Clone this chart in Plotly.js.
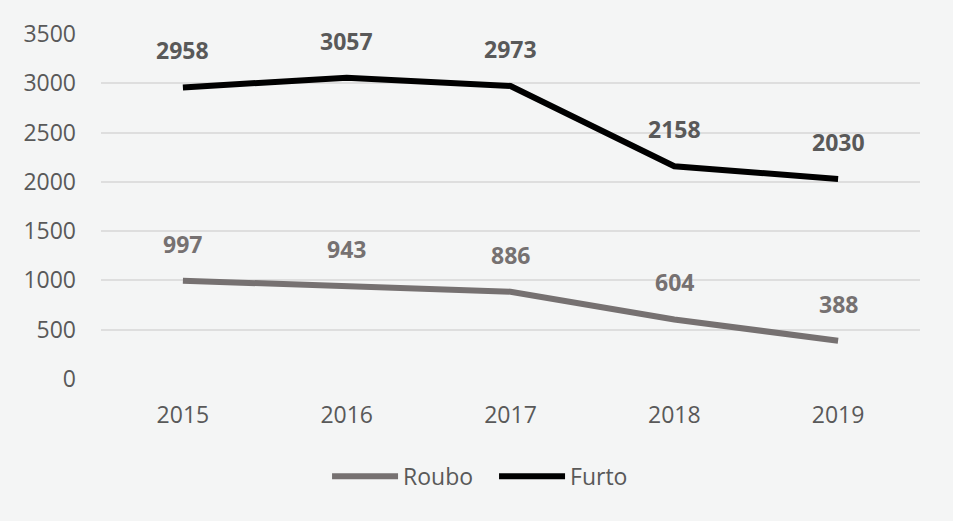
<!DOCTYPE html>
<html>
<head>
<meta charset="utf-8">
<script src="https://cdn.plot.ly/plotly-3.0.1.min.js"></script>
<style>
  html, body { margin: 0; padding: 0; background: #f4f5f5; }
  #chart { width: 953px; height: 521px; }
</style>
</head>
<body>
<div id="chart"></div>
<script>
const years = ["2015", "2016", "2017", "2018", "2019"];
const roubo = [997, 943, 886, 604, 388];
const furto = [2958, 3057, 2973, 2158, 2030];

const FONT = "Open Sans, sans-serif";

// data labels sit above each point
function pointLabels(values, color) {
  return values.map((v, i) => ({
    xref: "x",
    yref: "y",
    x: i,
    y: v,
    text: "<b>" + v + "</b>",
    showarrow: false,
    yshift: 37,
    font: { family: FONT, size: 23, color: color },
  }));
}

Plotly.newPlot("chart", [
  {
    type: "scatter",
    mode: "lines",
    name: "Roubo",
    x: years,
    y: roubo,
    line: { color: "#767171", width: 6 },
  },
  {
    type: "scatter",
    mode: "lines",
    name: "Furto",
    x: years,
    y: furto,
    line: { color: "#000000", width: 6 },
  },
], {
  width: 953,
  height: 521,
  paper_bgcolor: "#f4f5f5",
  plot_bgcolor: "#f4f5f5",
  font: { family: FONT, color: "#595959", size: 23 },
  margin: { l: 101, r: 33, t: 34, b: 142, autoexpand: false },
  xaxis: {
    type: "category",
    range: [-0.5, 4.5],
    showgrid: false,
    zeroline: false,
    showline: false,
    ticks: "",
    ticklabelstandoff: 20,
    tickfont: { size: 23, color: "#595959" },
  },
  yaxis: {
    range: [0, 3500],
    dtick: 500,
    gridcolor: "#dedede",
    gridwidth: 1.5,
    zeroline: false,
    showline: false,
    ticklabelstandoff: 24,
    tickfont: { size: 23, color: "#595959" },
  },
  showlegend: true,
  legend: {
    orientation: "h",
    x: 0.276,
    xanchor: "left",
    y: -0.22,
    yanchor: "top",
    itemwidth: 66,
    entrywidth: 86,
    font: { size: 23, color: "#595959" },
    bgcolor: "rgba(0,0,0,0)",
  },
  annotations: pointLabels(roubo, "#767171").concat(pointLabels(furto, "#595959")),
}, { displayModeBar: false });
</script>
</body>
</html>
